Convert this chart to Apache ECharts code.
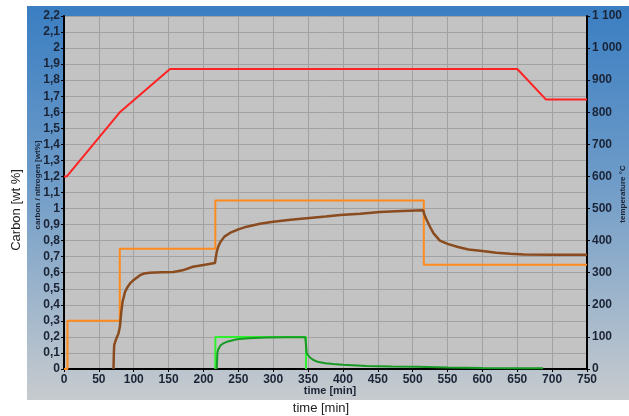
<!DOCTYPE html>
<html>
<head>
<meta charset="utf-8">
<script src="https://cdn.jsdelivr.net/npm/echarts@6/dist/echarts.min.js"></script>
<style>
html,body{margin:0;padding:0;background:#fff;}
#c{width:629px;height:416px;}
</style>
</head>
<body>
<div id="c"></div>
<script>
// Temperature (right axis, °C)
var tempTime = [0, 4, 80, 152, 650, 691, 750];
var tempVal  = [600, 600, 800, 935, 935, 840, 840];

// Carbon potential setpoint (left axis, wt%)
var cpTime = [0, 5, 5, 80, 80, 217, 217, 516, 516, 750];
var cpVal  = [0, 0, 0.3, 0.3, 0.75, 0.75, 1.05, 1.05, 0.65, 0.65];

// Nitrogen setpoint
var nSetTime = [217, 217, 347, 347];
var nSetVal  = [0, 0.2, 0.2, 0];

// Carbon measured/calculated
var cTime = [71, 71.5, 72, 75, 78, 80, 81, 82, 84, 87.5, 91, 95, 100, 109, 115, 123, 140, 157, 170, 185, 200, 216.5, 217.5, 219, 221, 224, 230, 238, 250, 262, 281, 300, 325, 348, 375, 396, 425, 453, 485, 515, 517, 520, 525, 530, 539, 550, 565, 580, 600, 620, 640, 660, 700, 750];
var cVal  = [0, 0.1, 0.15, 0.19, 0.22, 0.26, 0.3, 0.35, 0.42, 0.48, 0.51, 0.535, 0.555, 0.585, 0.595, 0.60, 0.603, 0.605, 0.615, 0.637, 0.648, 0.66, 0.69, 0.73, 0.76, 0.79, 0.825, 0.848, 0.87, 0.887, 0.905, 0.918, 0.93, 0.94, 0.95, 0.96, 0.968, 0.978, 0.985, 0.99, 0.96, 0.93, 0.885, 0.845, 0.80, 0.78, 0.76, 0.745, 0.735, 0.725, 0.718, 0.714, 0.712, 0.712];

// Nitrogen measured/calculated
var nTime = [219, 219.5, 220, 221, 224, 228.5, 235, 248, 265, 291, 320, 346, 347, 348, 352, 357.5, 365, 375, 386, 400, 434, 470, 506, 550, 600, 650, 687];
var nVal  = [0, 0.05, 0.1, 0.12, 0.145, 0.16, 0.172, 0.185, 0.192, 0.196, 0.198, 0.198, 0.15, 0.1, 0.075, 0.056, 0.043, 0.036, 0.031, 0.026, 0.019, 0.016, 0.014, 0.01, 0.007, 0.005, 0.004];

function pairs(t, v) { return t.map(function (x, i) { return [x, v[i]]; }); }

var labelColor = '#1b2436';
var chart = echarts.init(document.getElementById('c'), null, {renderer: 'canvas'});
chart.setOption({
  animation: false,
  backgroundColor: '#ffffff',
  graphic: [
    {
      type: 'rect', z: -10, silent: true,
      shape: {x: 27, y: 6, width: 602, height: 394},
      style: {
        fill: new echarts.graphic.LinearGradient(0, 0, 0, 1, [
          {offset: 0, color: '#3a7ec2'},
          {offset: 0.45, color: '#6f9cc8'},
          {offset: 1, color: '#c7cbce'}
        ])
      }
    },
    {
      type: 'text', x: 38, y: 185, rotation: Math.PI / 2,
      style: {text: 'carbon / nitrogen [wt%]', fill: labelColor, font: 'bold 8px "Liberation Sans", Arial, sans-serif', align: 'center', verticalAlign: 'middle'}
    },
    {
      type: 'text', x: 623, y: 194, rotation: Math.PI / 2,
      style: {text: 'temperature °C', fill: labelColor, font: 'bold 8px "Liberation Sans", Arial, sans-serif', align: 'center', verticalAlign: 'middle'}
    },
    {
      type: 'text', x: 330, y: 391,
      style: {text: 'time [min]', fill: labelColor, font: 'bold 11px "Liberation Sans", Arial, sans-serif', align: 'center', verticalAlign: 'middle'}
    },
    {
      type: 'text', x: 321, y: 408,
      style: {text: 'time [min]', fill: '#222', font: '13px "Liberation Sans", Arial, sans-serif', align: 'center', verticalAlign: 'middle'}
    },
    {
      type: 'text', x: 16, y: 210, rotation: Math.PI / 2,
      style: {text: 'Carbon [wt %]', fill: '#222', font: '13px "Liberation Sans", Arial, sans-serif', align: 'center', verticalAlign: 'middle'}
    }
  ],
  grid: {
    left: 64, right: 42, top: 16, bottom: 47,
    show: true, backgroundColor: '#c3c3c3', borderWidth: 0
  },
  xAxis: {
    type: 'value', min: 0, max: 750, interval: 50,
    axisLine: {show: true, onZero: false, lineStyle: {color: '#000', width: 2}},
    axisTick: {show: true, length: 3, lineStyle: {color: '#000'}},
    axisLabel: {color: labelColor, fontWeight: 'bold', fontSize: 12, fontFamily: '"Liberation Sans", Arial, sans-serif', margin: 5},
    splitLine: {show: true, lineStyle: {color: '#a2a2a2', width: 1}}
  },
  yAxis: [
    {
      type: 'value', min: 0, max: 2.2, interval: 0.1, position: 'left',
      axisLine: {show: true, lineStyle: {color: '#000', width: 2}},
      axisTick: {show: true, length: 3, lineStyle: {color: '#000'}},
      axisLabel: {
        color: labelColor, fontWeight: 'bold', fontSize: 12, fontFamily: '"Liberation Sans", Arial, sans-serif', margin: 4,
        formatter: function (v) { return String(Number(v.toFixed(1))).replace('.', ','); }
      },
      splitLine: {show: true, lineStyle: {color: '#a2a2a2', width: 1}}
    },
    {
      type: 'value', min: 0, max: 1100, interval: 100, position: 'right',
      axisLine: {show: true, lineStyle: {color: '#000', width: 2}},
      axisTick: {show: true, length: 3, lineStyle: {color: '#000'}},
      axisLabel: {
        color: labelColor, fontWeight: 'bold', fontSize: 12, fontFamily: '"Liberation Sans", Arial, sans-serif', margin: 5,
        formatter: function (v) { return v >= 1000 ? Math.floor(v / 1000) + ' ' + String(v % 1000).padStart(3, '0') : String(v); }
      },
      splitLine: {show: false}
    }
  ],
  series: [
    {type: 'line', name: 'carbon potential setpoint', yAxisIndex: 0, data: pairs(cpTime, cpVal), showSymbol: false, lineStyle: {color: '#ff8a1e', width: 2}, z: 2},
    {type: 'line', name: 'nitrogen setpoint', yAxisIndex: 0, data: pairs(nSetTime, nSetVal), showSymbol: false, lineStyle: {color: '#2ef02e', width: 2}, z: 3},
    {type: 'line', name: 'temperature', yAxisIndex: 1, data: pairs(tempTime, tempVal), showSymbol: false, lineStyle: {color: '#ff2222', width: 2}, z: 4},
    {type: 'line', name: 'nitrogen', yAxisIndex: 0, data: pairs(nTime, nVal), showSymbol: false, lineStyle: {color: '#179a23', width: 2}, z: 5},
    {type: 'line', name: 'carbon', yAxisIndex: 0, data: pairs(cTime, cVal), showSymbol: false, lineStyle: {color: '#8a4b1f', width: 2.5}, z: 6}
  ]
});
</script>
</body>
</html>
